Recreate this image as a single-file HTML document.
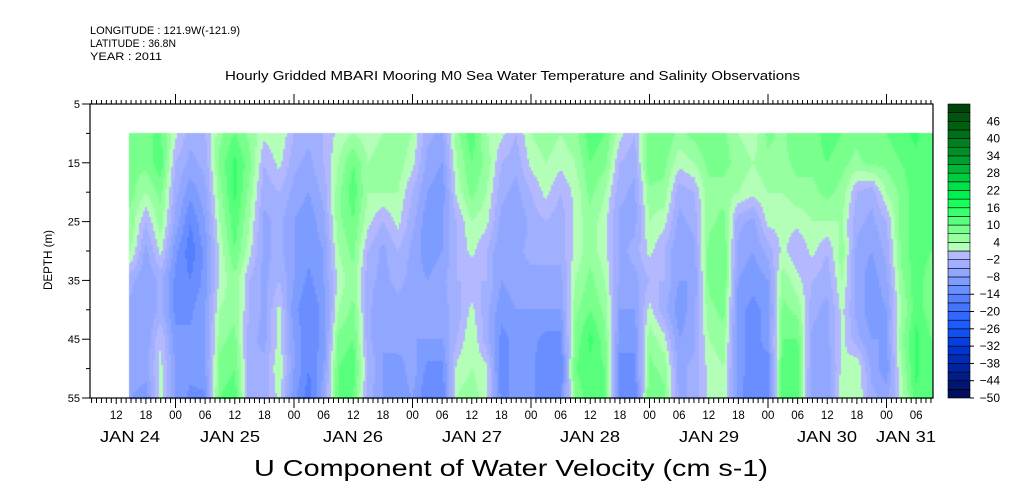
<!DOCTYPE html>
<html><head><meta charset="utf-8"><style>
body{margin:0;background:#fff;width:1009px;height:504px;overflow:hidden;position:relative;font-family:"Liberation Sans",sans-serif}
</style></head><body>
<canvas id="c" width="1009" height="504" style="position:absolute;left:0;top:0"></canvas>
<svg id="s" width="1009" height="504" style="position:absolute;left:0;top:0" font-family="Liberation Sans, sans-serif">
<text x="90" y="34" font-size="11" textLength="150" lengthAdjust="spacingAndGlyphs">LONGITUDE : 121.9W(-121.9)</text>
<text x="90" y="47" font-size="11" textLength="86" lengthAdjust="spacingAndGlyphs">LATITUDE : 36.8N</text>
<text x="90" y="60" font-size="11" textLength="72" lengthAdjust="spacingAndGlyphs">YEAR : 2011</text>
<text x="225" y="80" font-size="12.5" textLength="575" lengthAdjust="spacingAndGlyphs">Hourly Gridded MBARI Mooring M0 Sea Water Temperature and Salinity Observations</text>
<text x="254" y="476" font-size="23" textLength="514" lengthAdjust="spacingAndGlyphs">U Component of Water Velocity (cm s-1)</text>
<text x="0" y="0" font-size="12" textLength="60" lengthAdjust="spacingAndGlyphs" transform="translate(52,290) rotate(-90)">DEPTH (m)</text>
</svg>
<script>
const times=[];for(let i=0;i<55;i++)times.push(15+3*i);
const depths=[10,15,20,25,30,35,40,45,50,55];
const values=[
[8,8,8,6,4,-4,-6,-6,-6,-8],
[10,8,4,-2,-6,-8,-8,-8,-6,-10],
[10,12,8,6,2,-4,-4,1,2,2],
[2,-2,-4,-6,-10,-12,-12,-10,-8,-8],
[-4,-6,-10,-14,-16,-14,-12,-10,-10,-12],
[-2,-4,-6,-8,-10,-10,-8,-8,-8,-12],
[6,8,6,4,2,2,4,6,8,10],
[10,14,14,12,10,6,6,8,10,12],
[6,8,6,4,2,-2,-2,-4,-4,-4],
[2,-2,-4,-6,-6,-6,-6,-6,-4,-4],
[4,2,-2,-4,-4,-2,2,2,4,2],
[-2,-4,-6,-8,-8,-8,-10,-8,-8,-10],
[-4,-6,-8,-10,-10,-12,-14,-14,-14,-16],
[-2,-2,-4,-6,-8,-8,-10,-10,-8,-6],
[2,4,6,6,4,2,4,8,10,10],
[4,10,12,10,8,6,8,10,12,10],
[2,4,4,2,-2,-4,-4,-4,-2,-4],
[4,6,4,-2,-6,-6,-8,-8,-8,-8],
[6,6,4,2,-2,-4,-6,-6,-10,-10],
[4,2,-2,-4,-6,-6,-8,-8,-6,-8],
[-4,-6,-8,-10,-10,-8,-8,-8,-12,-14],
[-6,-8,-10,-8,-8,-6,-6,-8,-12,-14],
[6,4,2,-2,-2,-2,-4,-2,2,4],
[12,10,8,4,2,-2,2,4,4,6],
[4,6,4,2,-2,-2,-4,-4,2,2],
[2,-2,-4,-6,-8,-8,-10,-12,-14,-12],
[-2,-4,-6,-8,-6,-6,-8,-10,-8,-10],
[4,2,-2,-4,-4,-6,-8,-10,-10,-10],
[6,4,2,-2,-4,-6,-8,-12,-14,-14],
[4,2,-2,-4,-4,-6,-8,-12,-14,-12],
[6,4,2,2,2,4,6,8,10,8],
[12,10,8,6,6,8,10,14,12,12],
[10,8,4,2,2,4,6,8,10,10],
[2,-2,-4,-6,-6,-6,-8,-10,-12,-14],
[-2,-4,-6,-6,-4,-6,-8,-10,-12,-14],
[8,10,6,4,2,-2,2,6,8,10],
[10,8,6,2,-2,-2,-4,2,6,8],
[6,2,-4,-6,-8,-8,-10,-8,-6,-6],
[8,4,-2,-4,-6,-8,-6,-6,-4,-4],
[10,8,6,6,8,8,6,4,2,2],
[8,8,6,8,10,10,8,6,4,4],
[4,6,4,-4,-6,-8,-10,-10,-10,-10],
[2,4,2,-6,-8,-10,-12,-12,-12,-14],
[8,6,4,2,-4,-8,-10,-10,-12,-12],
[6,6,4,2,2,6,8,10,12,12],
[10,8,6,2,-2,2,6,10,12,12],
[8,8,6,4,2,-2,-4,-6,-8,-8],
[12,10,8,4,-2,-4,-6,-6,-8,-8],
[10,8,6,4,6,4,2,2,2,4],
[8,6,-2,-4,-6,-6,-6,-4,4,4],
[10,8,-4,-6,-8,-10,-10,-8,-6,-4],
[10,8,4,-2,-4,-6,-8,-8,-10,-6],
[12,10,8,8,8,6,4,6,4,2],
[14,12,12,12,12,12,12,14,14,12],
[10,10,10,10,10,8,8,10,10,10]];
const levels=[];for(let v=-50;v<=49;v+=3)levels.push(v);
const cbarLabels=[-50,-44,-38,-32,-26,-20,-14,-8,-2,4,10,16,22,28,34,40,46];
const hourLabels=["12","18","00","06"];
const dateLabels=["JAN 24","JAN 25","JAN 26","JAN 27","JAN 28","JAN 29","JAN 30","JAN 31"];
const palette=["#00105a","#001470","#001c88","#0024a0","#002cb8","#0034cc","#0840e0","#1050f0","#1c5cff","#3068ff","#4474ff","#5480ff","#6a8eff","#7c9cff","#90a6ff","#a0b0ff","#b4b8ff","#b4ffb8","#96ffa0","#78ff8c","#58ff7c","#38ff6c","#18ff5c","#00f050","#00e048","#00cc40","#00b838","#00a030","#009028","#008020","#007018","#006010","#005410","#00440c"];
const X0=90,X1=933,Y0=104,Y1=398;
const xs=t=>57+t/24*118.5;
const ys=d=>Y0+(d-5)/50*(Y1-Y0);
function col(v){let i=Math.floor((v+50)/3);i=Math.max(0,Math.min(palette.length-1,i));return palette[i];}
const ctx=document.getElementById('c').getContext('2d');
const xa=xs(times[0]-0.3),xb=Math.min(X1,xs(times[times.length-1]+1.5));
for(let px=Math.floor(xa);px<xb;px+=2){
  const t=(px+1-57)/118.5*24;
  let fi=(t-times[0])/3;fi=Math.max(0,Math.min(times.length-1.001,fi));
  const i=Math.floor(fi),fx=fi-i;
  for(let py=Math.round(ys(10));py<Y1;py+=2){
    const d=5+(py+1-Y0)/(Y1-Y0)*50;
    let fj=(d-depths[0])/5;fj=Math.max(0,Math.min(depths.length-1.001,fj));
    const j=Math.floor(fj),fy=fj-j;
    const v=(values[i][j]*(1-fx)+values[i+1][j]*fx)*(1-fy)+(values[i][j+1]*(1-fx)+values[i+1][j+1]*fx)*fy;
    ctx.fillStyle=col(v);ctx.fillRect(px,py,2,2);
  }
}
const svg=document.getElementById('s');const NS="http://www.w3.org/2000/svg";
function el(tag,a,txt){const e=document.createElementNS(NS,tag);for(const k in a)e.setAttribute(k,a[k]);if(txt!=null)e.textContent=txt;svg.appendChild(e);return e;}
let f=el('rect',{x:X0,y:Y0,width:X1-X0,height:Y1-Y0,fill:'none',stroke:'#000','stroke-width':1.2});


for(let d=5;d<=55;d+=5){const y=ys(d);const big=(d%10===5);
  el('line',{x1:X0-(big?8:4),x2:X0,y1:y,y2:y,stroke:'#000'});
  if(big){const tl=el('text',{x:X0-10,y:y+4,'font-size':11,'text-anchor':'end'},String(d));
    
    }}
for(let h=7;h<=177;h++){const x=xs(h);if(x<X0||x>X1)continue;
  const day=h%24===0,six=h%6===0;
  el('line',{x1:x,x2:x,y1:Y0,y2:Y0-(day?10:4),stroke:'#000'});
  el('line',{x1:x,x2:x,y1:Y1,y2:Y1+(day?10:(six?6:5)),stroke:'#000'});
  if(six){const tl=el('text',{x:x,y:419,'font-size':11.5,'text-anchor':'middle'},hourLabels[((h/6)+2)%4]);
    
    }}
const dateX=[130,230,353,472,590,709,827,906];
dateLabels.forEach((s,i)=>{const tl=el('text',{x:dateX[i]-30,y:442,'font-size':16,textLength:60,lengthAdjust:'spacingAndGlyphs'},s);
  
  });
const CB0=104,CB1=398,cbx=948,cbw=22,bh=(CB1-CB0)/levels.length;
levels.forEach((v,i)=>{const r=el('rect',{x:cbx,y:CB1-(i+1)*bh,width:cbw,height:bh,fill:palette[i],stroke:'#000','stroke-width':0.6});
  
  });
cbarLabels.forEach(v=>{const y=CB1-(v+50)/3*bh;
  if(v<=-14)el('line',{x1:cbx+cbw,x2:cbx+cbw+4,y1:y,y2:y,stroke:'#000'});
  const tl=el('text',{x:1000,y:y+4,'font-size':12,'text-anchor':'end'},String(v).replace('-','\u2212'));
  
  });
</script>
</body></html>
